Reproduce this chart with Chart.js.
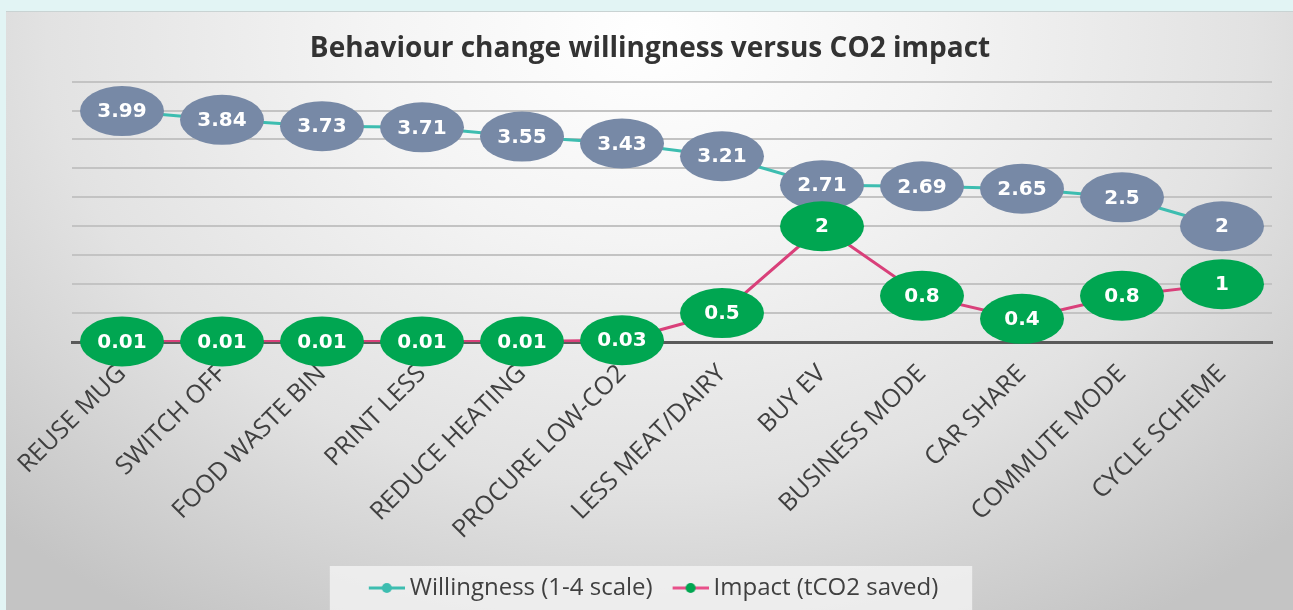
<!DOCTYPE html>
<html><head><meta charset="utf-8">
<script src="https://cdn.jsdelivr.net/npm/chart.js@4.4.1/dist/chart.umd.min.js"></script>
<style>
html,body{margin:0;padding:0;background:#e2f4f4;}
body{width:1293px;height:610px;position:relative;overflow:hidden;}
#box{position:absolute;left:6px;top:12px;width:1287px;height:598px;
background:radial-gradient(ellipse 72% 115% at 50% 4%, #ffffff 0%, #f4f4f4 30%, #e2e2e2 65%, #c4c4c4 100%);
box-shadow:0 -1px 0 #c9d3d3;}
canvas{display:block;}
</style></head>
<body><div id="box"><canvas id="c" width="1287" height="598"></canvas></div>
<script>
const categories = ["REUSE MUG","SWITCH OFF","FOOD WASTE BIN","PRINT LESS","REDUCE HEATING","PROCURE LOW-CO2","LESS MEAT/DAIRY","BUY EV","BUSINESS MODE","CAR SHARE","COMMUTE MODE","CYCLE SCHEME"];
const willingness = [3.99,3.84,3.73,3.71,3.55,3.43,3.21,2.71,2.69,2.65,2.5,2];
const impact = [0.01,0.01,0.01,0.01,0.01,0.03,0.5,2,0.8,0.4,0.8,1];
const seriesNames = ["Willingness (1-4 scale)","Impact (tCO2 saved)"];
const yMin = 0, yMax = 4.5, yStep = 0.5;

const styles = {
  lines: ['#3dbdb0','#d9407a'],
  bubbles: ['#7789a6','#00a651']
};

function legendMarker(lineColor, dotColor){
  const c = document.createElement('canvas');
  c.width = 50; c.height = 14;
  const g = c.getContext('2d');
  g.strokeStyle = lineColor; g.lineWidth = 3;
  g.beginPath(); g.moveTo(14,7); g.lineTo(50,7); g.stroke();
  g.fillStyle = dotColor;
  g.beginPath(); g.arc(32,7,5,0,Math.PI*2); g.fill();
  return c;
}
const markers = [legendMarker(styles.lines[0], styles.lines[0]), legendMarker('#e8508a', styles.bubbles[1])];

const ellipsePlugin = {
  id: 'ellipseLabels',
  afterDatasetsDraw(chart){
    const ctx = chart.ctx;
    chart.data.datasets.forEach((ds,i)=>{
      const meta = chart.getDatasetMeta(i);
      meta.data.forEach((pt,j)=>{
        ctx.save();
        ctx.beginPath();
        ctx.ellipse(pt.x, pt.y, 42, 25, 0, 0, Math.PI*2);
        ctx.fillStyle = styles.bubbles[i];
        ctx.fill();
        ctx.fillStyle = '#ffffff';
        ctx.font = 'bold 20px "DejaVu Sans"';
        ctx.textAlign = 'center';
        ctx.textBaseline = 'middle';
        ctx.fillText(String(ds.data[j]), pt.x, pt.y + 1);
        ctx.restore();
      });
    });
  }
};

const legendBgPlugin = {
  id: 'legendBg',
  beforeDraw(chart){
    const L = chart.legend;
    if (!L || !L.legendHitBoxes || !L.legendHitBoxes.length) return;
    const hb = L.legendHitBoxes;
    const left = Math.min(...hb.map(b=>b.left)) - 32;
    const right = Math.max(...hb.map(b=>b.left+b.width)) + 34;
    const top = hb[0].top - 10;
    const h = hb[0].height + 20;
    const ctx = chart.ctx;
    ctx.save();
    ctx.fillStyle = 'rgba(246,246,246,0.75)';
    ctx.fillRect(left, top, right-left, h);
    ctx.restore();
  }
};

new Chart(document.getElementById('c'), {
  type: 'line',
  data: {
    labels: categories,
    datasets: [
      {label: seriesNames[0], data: willingness, borderColor: styles.lines[0], backgroundColor: styles.lines[0], borderWidth: 3, pointRadius: 0, tension: 0},
      {label: seriesNames[1], data: impact, borderColor: styles.lines[1], backgroundColor: styles.lines[1], borderWidth: 3, pointRadius: 0, tension: 0}
    ]
  },
  options: {
    responsive: false,
    animation: false,
    layout: {padding: {left: 22, right: 21, top: 0, bottom: 0}},
    plugins: {
      tooltip: {enabled: false},
      title: {
        display: true,
        text: 'Behaviour change willingness versus CO2 impact',
        color: '#333333',
        font: {family: '"Open Sans"', size: 28, weight: '700'},
        padding: {top: 20, bottom: 16}
      },
      legend: {
        position: 'bottom',
        labels: {
          usePointStyle: true,
          pointStyleWidth: 36,
          padding: 13,
          color: '#404040',
          font: {family: '"Open Sans"', size: 24},
          generateLabels(chart){
            return chart.data.datasets.map((ds,i)=>({
              text: ds.label, pointStyle: markers[i], fillStyle: styles.lines[i], strokeStyle: styles.lines[i],
              lineWidth: 0, hidden: false, datasetIndex: i, fontColor: '#404040'
            }));
          }
        }
      }
    },
    scales: {
      x: {
        offset: true,
        grid: {display: false},
        border: {display: true, color: '#5a5a5a', width: 3},
        ticks: {autoSkip: false, minRotation: 45, maxRotation: 45, padding: 9, color: '#404040',
          font: {family: '"Open Sans"', size: 25}},
        afterFit(scale){ scale.height = 221; }
      },
      y: {
        min: yMin, max: yMax,
        ticks: {display: false, stepSize: yStep},
        border: {display: false},
        grid: {drawTicks: false, lineWidth: 2,
          color: (c)=> c.tick && c.tick.value === 0 ? 'rgba(0,0,0,0)' : '#c3c3c3'},
        afterFit(scale){ scale.width = 44; }
      }
    }
  },
  plugins: [legendBgPlugin, ellipsePlugin]
});
</script>
</body></html>
